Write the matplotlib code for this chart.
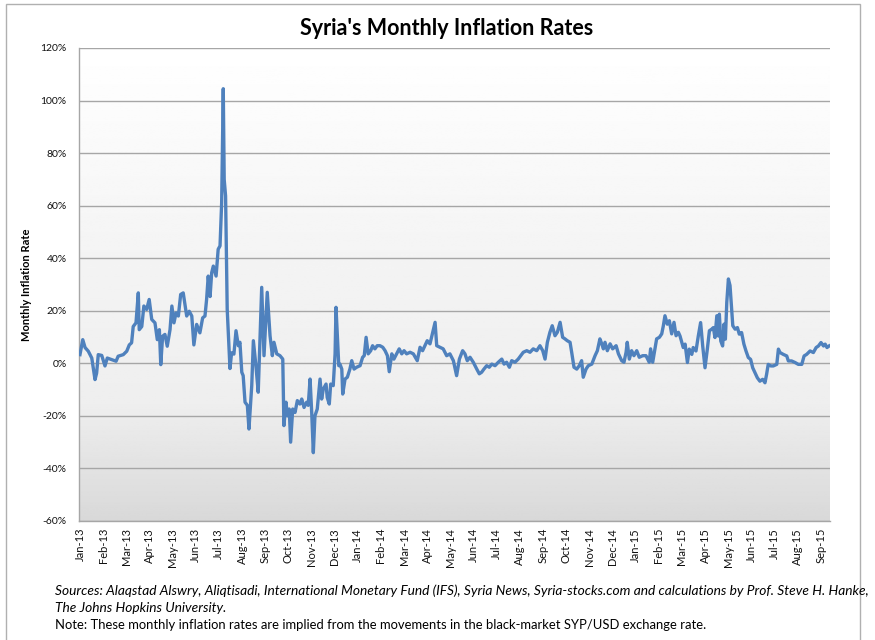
#!/usr/bin/env python3
"""Syria's monthly inflation rates (implied from black-market SYP/USD rate)."""

import matplotlib
matplotlib.use("Agg")
import matplotlib.pyplot as plt
import numpy as np
from matplotlib.patches import Rectangle

# x = months since Jan-2013 (0 = Jan-13), y = monthly inflation in %
months = [
    0.00, 0.12, 0.22, 0.36, 0.51, 0.65, 0.72, 0.79, 0.94, 1.08, 1.18, 1.37, 1.56, 1.65, 1.87,
    2.02, 2.13, 2.23, 2.30, 2.42, 2.52, 2.56, 2.67, 2.76, 2.88, 2.99, 3.10, 3.24, 3.34, 3.43,
    3.49, 3.57, 3.67, 3.77, 3.89, 3.97, 4.06, 4.15, 4.25, 4.35, 4.46, 4.61, 4.72, 4.83, 4.92,
    5.04, 5.18, 5.30, 5.40, 5.47, 5.54, 5.62, 5.69, 5.76, 5.88, 5.97, 6.05, 6.12, 6.19, 6.23,
    6.29, 6.36, 6.48, 6.55, 6.65, 6.74, 6.84, 6.91, 6.99, 7.05, 7.13, 7.23, 7.30, 7.42, 7.49,
    7.60, 7.70, 7.85, 7.95, 8.09, 8.21, 8.31, 8.38, 8.50, 8.64, 8.76, 8.81, 8.90, 8.96, 9.04,
    9.10, 9.19, 9.29, 9.39, 9.50, 9.58, 9.68, 9.79, 9.86, 9.94, 10.01, 10.08, 10.15, 10.25, 10.37,
    10.44, 10.51, 10.63, 10.68, 10.77, 10.83, 10.94, 11.02, 11.06, 11.12, 11.18, 11.23, 11.31, 11.35, 11.45,
    11.55, 11.66, 11.74, 11.84, 11.95, 12.10, 12.21, 12.28, 12.36, 12.45, 12.56, 12.64, 12.74, 12.84, 12.96,
    13.08, 13.18, 13.28, 13.36, 13.47, 13.56, 13.68, 13.79, 13.90, 14.00, 14.11, 14.26, 14.40, 14.57, 14.69,
    14.80, 14.90, 15.00, 15.12, 15.24, 15.34, 15.41, 15.55, 15.69, 15.84, 15.98, 16.13, 16.27, 16.39, 16.53,
    16.63, 16.73, 16.85, 16.99, 17.14, 17.25, 17.35, 17.45, 17.57, 17.68, 17.79, 17.93, 18.07, 18.22, 18.32,
    18.43, 18.55, 18.65, 18.79, 18.93, 19.04, 19.15, 19.30, 19.44, 19.58, 19.73, 19.87, 19.99, 20.09, 20.19,
    20.30, 20.40, 20.52, 20.62, 20.74, 20.85, 20.95, 21.05, 21.17, 21.24, 21.34, 21.46, 21.57, 21.67, 21.74,
    21.86, 21.96, 22.11, 22.25, 22.35, 22.46, 22.54, 22.61, 22.68, 22.78, 22.90, 23.01, 23.16, 23.26, 23.40,
    23.50, 23.59, 23.64, 23.73, 23.83, 23.93, 24.05, 24.16, 24.31, 24.45, 24.59, 24.65, 24.74, 24.80, 24.91,
    25.03, 25.13, 25.20, 25.27, 25.37, 25.46, 25.56, 25.66, 25.75, 25.85, 25.92, 26.06, 26.14, 26.24, 26.32,
    26.43, 26.49, 26.61, 26.71, 26.81, 26.90, 27.00, 27.10, 27.19, 27.29, 27.36, 27.43, 27.51, 27.58, 27.62,
    27.68, 27.76, 27.82, 27.88, 27.94, 28.01, 28.08, 28.12, 28.20, 28.30, 28.40, 28.48, 28.58, 28.68, 28.77,
    28.87, 28.97, 29.06, 29.16, 29.26, 29.37, 29.49, 29.59, 29.66, 29.73, 29.84, 29.95, 30.10, 30.17, 30.24,
    30.38, 30.53, 30.60, 30.74, 30.89, 31.03, 31.18, 31.28, 31.39, 31.54, 31.68, 31.80, 31.90, 32.01, 32.12,
    32.19, 32.27, 32.36,
]
inflation = [
    3.3, 9.0, 6.0, 4.6, 2.0, -6.2, -3.7, 3.3, 3.0, -1.0, 2.0, 1.4, 0.8, 2.7, 3.3,
    4.6, 7.0, 7.8, 14.0, 15.4, 26.8, 12.8, 14.0, 21.8, 20.5, 24.3, 16.7, 15.4, 9.0, 12.8,
    -0.5, 10.3, 11.0, 6.5, 12.8, 21.8, 15.4, 19.2, 18.0, 26.2, 26.8, 18.0, 19.8, 18.0, 7.0,
    14.8, 11.6, 17.3, 18.0, 24.3, 33.2, 25.4, 34.5, 37.0, 33.2, 43.4, 44.7, 61.0, 104.5, 70.0,
    63.7, 20.6, -2.0, 4.0, 3.5, 12.4, 6.7, 8.0, -3.4, -4.7, -14.8, -16.0, -25.0, -8.5, 8.6,
    -0.9, -11.0, 28.9, 2.9, 27.0, 10.5, 2.9, 8.0, 3.6, 2.9, 1.6, -23.7, -14.8, -20.0, -17.4,
    -30.0, -17.4, -18.7, -14.2, -15.5, -13.6, -16.8, -14.8, -16.0, -6.0, -18.7, -34.0, -20.0, -17.4, -6.0,
    -13.6, -9.8, -7.9, -13.0, -15.5, -7.9, -8.5, 3.6, 21.3, 10.5, -0.9, -0.3, -2.2, -11.7, -6.0,
    -5.3, -2.2, 1.0, -2.2, -1.5, -0.9, 2.3, 2.9, 9.9, 3.6, 4.8, 6.7, 5.5, 6.7, 6.7,
    6.1, 4.8, 2.9, -3.2, 3.6, 1.6, 3.6, 5.5, 3.6, 4.8, 3.6, 4.2, 3.6, 1.0, 6.1,
    4.8, 6.7, 8.6, 7.4, 11.8, 15.6, 6.7, 6.1, 5.5, 2.9, 3.6, 1.0, -4.7, 1.6, 4.8,
    3.6, 1.0, 2.3, 0.4, -2.2, -4.0, -3.4, -2.2, -0.9, -1.5, -0.3, -0.9, 0.4, 1.6, -0.3,
    0.4, -1.5, 1.0, 0.4, 1.6, 2.9, 4.2, 4.8, 4.2, 5.5, 4.8, 6.7, 4.8, 1.6, 8.0,
    11.8, 14.3, 10.5, 11.8, 15.6, 9.9, 9.3, 8.6, 8.0, 4.2, -1.5, -2.2, -0.9, 1.0, -5.3,
    -2.2, -0.9, -0.3, 2.9, 4.8, 9.3, 7.4, 5.5, 8.0, 4.8, 7.4, 5.5, 6.7, 3.6, 1.0,
    0.4, 4.2, 8.0, 1.6, 4.8, 2.9, 4.8, 2.3, 2.9, 2.9, 0.4, 5.5, 0.4, 3.6, 9.3,
    9.9, 11.2, 14.3, 18.1, 14.9, 16.2, 11.2, 15.6, 10.5, 11.8, 10.4, 6.0, 7.3, 0.3, 5.4,
    3.4, 6.0, 4.7, 10.4, 15.5, 6.6, -1.7, 5.4, 12.4, 13.0, 13.6, 9.8, 18.1, 10.4, 18.7,
    8.5, 6.6, 14.9, 9.2, 23.2, 32.1, 29.6, 24.5, 14.3, 13.0, 13.6, 11.1, 11.7, 7.3, 4.7,
    2.2, 1.5, -1.7, -3.6, -5.5, -6.8, -6.1, -7.4, -4.2, -0.4, -1.0, -1.0, -0.4, 5.4, 4.1,
    3.4, 2.8, 0.9, 0.9, 0.3, -0.4, -0.4, 2.8, 3.4, 4.7, 4.1, 6.0, 6.6, 7.9, 6.6,
    7.3, 6.0, 6.6,
]
month_labels = [
    "Jan-13", "Feb-13", "Mar-13", "Apr-13", "May-13", "Jun-13", "Jul-13", "Aug-13", "Sep-13",
    "Oct-13", "Nov-13", "Dec-13", "Jan-14", "Feb-14", "Mar-14", "Apr-14", "May-14", "Jun-14",
    "Jul-14", "Aug-14", "Sep-14", "Oct-14", "Nov-14", "Dec-14", "Jan-15", "Feb-15", "Mar-15",
    "Apr-15", "May-15", "Jun-15", "Jul-15", "Aug-15", "Sep-15",
]
y_ticks = [-60, -40, -20, 0, 20, 40, 60, 80, 100, 120]

plt.rcParams.update({"font.family": ["Lato", "DejaVu Sans"]})

fig = plt.figure(figsize=(8.75, 6.4), dpi=100)
fig.add_artist(Rectangle((0.007, -0.01), 0.976, 1.004, transform=fig.transFigure,
                         fill=False, edgecolor="#b0b0b0", lw=1.0))

ax = fig.add_axes([0.0906, 0.186, 0.858, 0.739])
ax.patch.set_visible(False)

# vertical gradient background (white at top -> light gray at bottom)
stops = np.array([0.0, 0.45, 0.75, 1.0])
shades = np.array([1.0, 0.955, 0.935, 0.85])
g = np.interp(np.linspace(0, 1, 256), stops, shades)
ax.imshow(np.repeat(g[:, None], 2, axis=1), cmap="gray", vmin=0, vmax=1,
          extent=[0, 1, 0, 1], transform=ax.transAxes, aspect="auto", zorder=0)

ax.plot(months, inflation, color="#4f81bd", lw=2.4, solid_joinstyle="round", zorder=3)

ax.set_xlim(-0.03, 32.4)
ax.set_ylim(-60, 120)
ax.set_yticks(y_ticks)
ax.set_yticklabels([f"{v}%" for v in y_ticks])
ax.set_xticks(range(len(month_labels)))
ax.set_xticklabels(month_labels, rotation=90)
ax.tick_params(axis="x", length=0, pad=5, labelsize=8, labelcolor="#111111")
ax.tick_params(axis="y", length=0, pad=9, labelsize=7.5, labelcolor="#111111")
ax.grid(axis="y", color="#a6a6a6", lw=1.0)
ax.set_axisbelow(True)
for side in ["top", "right"]:
    ax.spines[side].set_visible(False)
for side in ["left", "bottom"]:
    ax.spines[side].set_color("#a6a6a6")
    ax.spines[side].set_linewidth(1.0)

ax.set_ylabel("Monthly Inflation Rate", fontsize=8, fontweight="bold", labelpad=6)

fig.text(0.511, 0.955, "Syria's Monthly Inflation Rates", ha="center", va="center",
         fontsize=15.5, fontweight="bold")
fig.text(0.063, 0.070, "Sources: Alaqstad Alswry, Aliqtisadi, International Monetary Fund (IFS), "
         "Syria News, Syria-stocks.com and calculations by Prof. Steve H. Hanke,",
         fontsize=9.9, style="italic", va="baseline")
fig.text(0.063, 0.044, "The Johns Hopkins University.", fontsize=9.9, style="italic", va="baseline")
fig.text(0.063, 0.017, "Note: These monthly inflation rates are implied from the movements in the "
         "black-market SYP/USD exchange rate.", fontsize=9.4, va="baseline")

fig.savefig("out.png", dpi=100)
